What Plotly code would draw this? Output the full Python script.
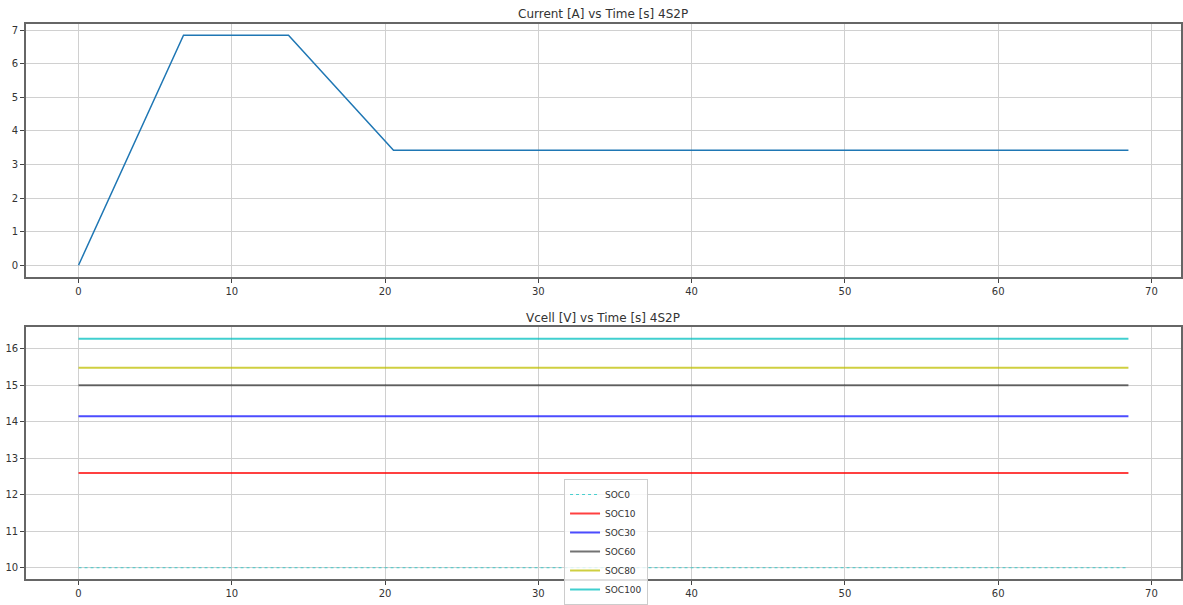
import plotly.graph_objects as go

# Current profile (piecewise linear)
t_current = [0, 6.85, 13.7, 20.55, 68.5]
current = [0, 6.85, 6.85, 3.425, 3.425]

# Cell-stack voltage per state of charge
t_voltage = [0, 68.5]
soc_names = ["SOC0", "SOC10", "SOC30", "SOC60", "SOC80", "SOC100"]
soc_volts = [10.0, 12.6, 14.15, 15.0, 15.48, 16.28]
soc_colors = ["rgba(0,191,191,0.7)", "rgba(255,0,0,0.75)", "rgba(0,0,255,0.7)",
              "rgba(0,0,0,0.55)", "rgba(191,191,0,0.75)", "rgba(0,191,191,0.75)"]
soc_dash = ["dot", "solid", "solid", "solid", "solid", "solid"]

W, H = 1183, 605
FONT = "DejaVu Sans"

fig = go.Figure()

fig.add_trace(go.Scatter(x=t_current, y=current, mode="lines",
                         line=dict(color="#1f77b4", width=1.5),
                         xaxis="x", yaxis="y", showlegend=False))

for name, v, c, d in zip(soc_names, soc_volts, soc_colors, soc_dash):
    fig.add_trace(go.Scatter(x=t_voltage, y=[v, v], mode="lines", name=name,
                             line=dict(color=c, width=1.2 if d == "dot" else 2, dash=d),
                             xaxis="x2", yaxis="y2"))

xdom = [26 / W, 1.0]
top_dom = [1 - 280 / H, 1 - 24 / H]
bot_dom = [1 - 586 / H, 1 - 331 / H]

common_axis = dict(showgrid=True, gridcolor="#d0d0d0", gridwidth=1,
                   showline=True, linecolor="#666666", linewidth=1.5, mirror=True,
                   ticks="outside", ticklen=4, tickcolor="#444444",
                   tickfont=dict(family=FONT, size=10, color="#333333"),
                   zeroline=False)

title_x = 0.5 * (xdom[0] + 1183 / W)

fig.update_layout(
    width=W, height=H,
    margin=dict(l=0, r=0, t=0, b=0),
    paper_bgcolor="white", plot_bgcolor="white",
    font=dict(family=FONT, size=10, color="#333333"),
    xaxis=dict(domain=xdom, anchor="y", range=[-3.43, 71.93], dtick=10, **common_axis),
    yaxis=dict(domain=top_dom, anchor="x", range=[-0.3425, 7.1925], dtick=1, **common_axis),
    xaxis2=dict(domain=xdom, anchor="y2", range=[-3.43, 71.93], dtick=10, **common_axis),
    yaxis2=dict(domain=bot_dom, anchor="x2", range=[9.686, 16.594], dtick=1, **common_axis),
    legend=dict(x=565 / W, y=1 - 485 / H, xanchor="left", yanchor="top",
                bgcolor="rgba(255,255,255,0.8)", bordercolor="#cccccc", borderwidth=1,
                font=dict(family=FONT, size=9, color="#333333"),
                tracegroupgap=0, itemwidth=30),
    annotations=[
        dict(text="Current [A] vs Time [s] 4S2P", x=title_x, y=1 - 14 / H,
             xref="paper", yref="paper", showarrow=False, yanchor="middle",
             font=dict(family=FONT, size=12, color="#333333")),
        dict(text="Vcell [V] vs Time [s] 4S2P", x=title_x, y=1 - 322 / H,
             xref="paper", yref="paper", showarrow=False, yanchor="middle",
             font=dict(family=FONT, size=12, color="#333333")),
    ],
)

fig.write_html("out.html")
